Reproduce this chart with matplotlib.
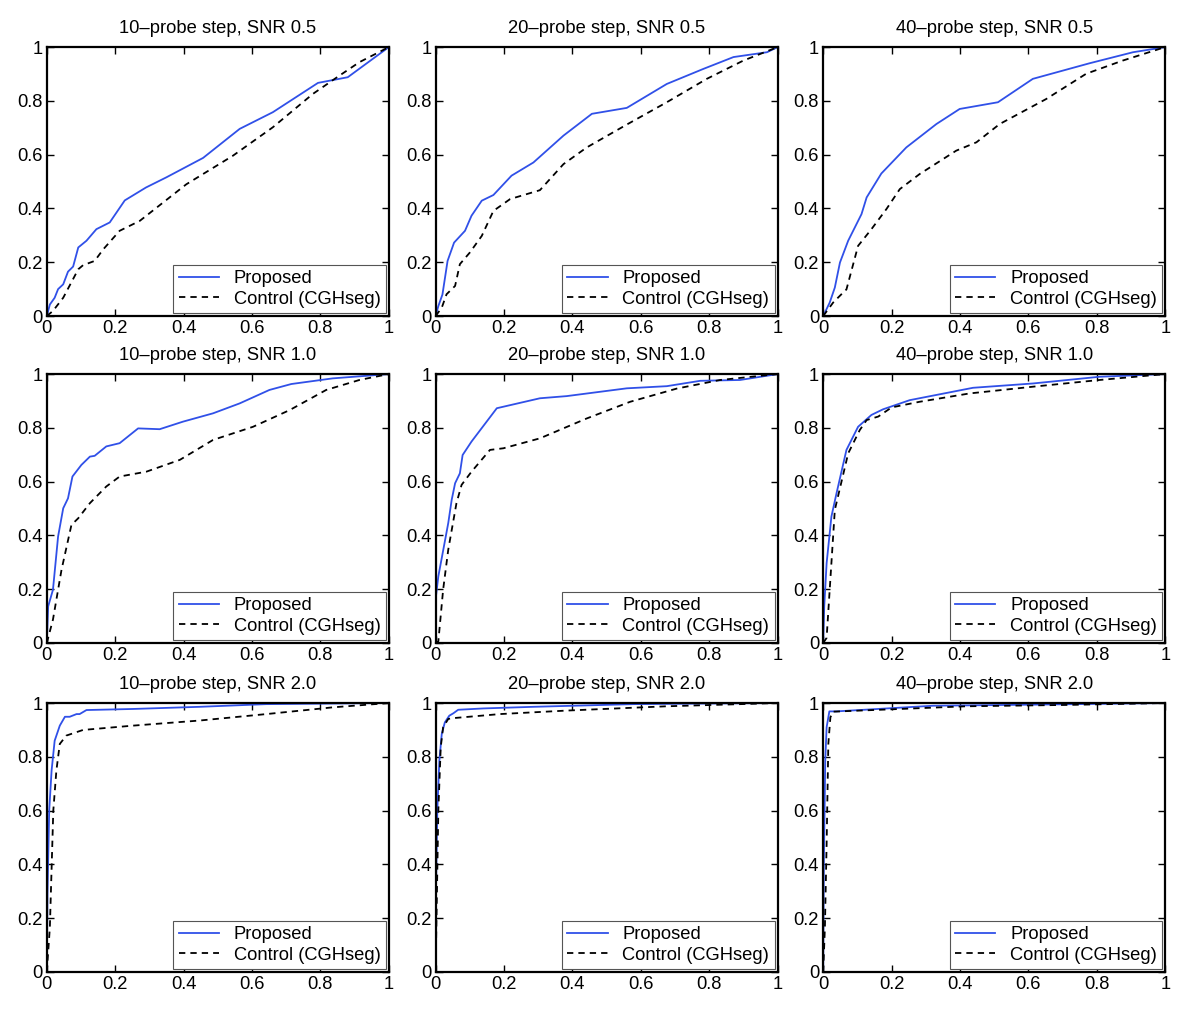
import matplotlib
matplotlib.use('Agg')
import matplotlib.pyplot as plt
import numpy as np

plt.rcParams['font.family'] = ['Liberation Sans', 'DejaVu Sans']

# panel titles, row by row
titles = ['10\u2013probe step, SNR 0.5', '20\u2013probe step, SNR 0.5', '40\u2013probe step, SNR 0.5',
          '10\u2013probe step, SNR 1.0', '20\u2013probe step, SNR 1.0', '40\u2013probe step, SNR 1.0',
          '10\u2013probe step, SNR 2.0', '20\u2013probe step, SNR 2.0', '40\u2013probe step, SNR 2.0']

# proposed method: (false positive rate, true positive rate)
prop_x = [
    [0, 0.009, 0.023, 0.033, 0.048, 0.062, 0.077, 0.092, 0.116, 0.145, 0.184, 0.228, 0.29, 0.35, 0.457, 0.564, 0.661, 0.793, 0.88, 1],
    [0, 0.008, 0.02, 0.035, 0.054, 0.086, 0.105, 0.135, 0.169, 0.222, 0.286, 0.374, 0.457, 0.559, 0.676, 0.783, 0.871, 0.969, 1],
    [0, 0.019, 0.034, 0.049, 0.073, 0.112, 0.127, 0.17, 0.243, 0.331, 0.399, 0.511, 0.613, 0.779, 0.906, 1],
    [0, 0.004, 0.018, 0.033, 0.048, 0.062, 0.075, 0.101, 0.126, 0.14, 0.174, 0.213, 0.267, 0.33, 0.398, 0.486, 0.564, 0.651, 0.715, 0.836, 1],
    [0, 0.001, 0.008, 0.018, 0.037, 0.047, 0.057, 0.071, 0.079, 0.105, 0.179, 0.305, 0.383, 0.559, 0.676, 0.774, 0.89, 1],
    [0, 0.003, 0.01, 0.024, 0.039, 0.068, 0.102, 0.141, 0.175, 0.253, 0.438, 0.613, 0.808, 1],
    [0, 0.002, 0.007, 0.014, 0.023, 0.038, 0.053, 0.067, 0.087, 0.096, 0.116, 0.252, 0.447, 0.642, 1],
    [0, 0.001, 0.005, 0.011, 0.018, 0.027, 0.04, 0.052, 0.066, 0.14, 0.286, 0.579, 1],
    [0, 0.002, 0.006, 0.01, 0.018, 0.039, 0.321, 0.613, 1],
]
prop_y = [
    [0, 0.043, 0.068, 0.10, 0.118, 0.165, 0.184, 0.255, 0.28, 0.323, 0.348, 0.43, 0.478, 0.516, 0.588, 0.696, 0.758, 0.867, 0.888, 1],
    [0, 0.037, 0.08, 0.205, 0.273, 0.317, 0.373, 0.429, 0.45, 0.522, 0.571, 0.671, 0.752, 0.774, 0.863, 0.919, 0.963, 0.981, 1],
    [0, 0.05, 0.106, 0.199, 0.28, 0.379, 0.441, 0.53, 0.627, 0.714, 0.77, 0.795, 0.882, 0.94, 0.981, 1],
    [0, 0.136, 0.198, 0.396, 0.501, 0.538, 0.619, 0.662, 0.693, 0.696, 0.731, 0.743, 0.798, 0.795, 0.823, 0.854, 0.891, 0.941, 0.963, 0.984, 1],
    [0, 0.173, 0.248, 0.316, 0.446, 0.532, 0.594, 0.631, 0.699, 0.749, 0.873, 0.91, 0.918, 0.947, 0.955, 0.975, 0.978, 1],
    [0, 0.136, 0.297, 0.47, 0.557, 0.718, 0.804, 0.848, 0.869, 0.903, 0.949, 0.965, 0.99, 1],
    [0, 0.291, 0.6, 0.749, 0.86, 0.916, 0.949, 0.949, 0.959, 0.959, 0.974, 0.978, 0.986, 0.996, 1],
    [0, 0.291, 0.6, 0.786, 0.885, 0.928, 0.953, 0.962, 0.975, 0.98, 0.986, 0.996, 1],
    [0, 0.415, 0.786, 0.91, 0.969, 0.969, 0.99, 0.994, 1],
]

# control (CGHseg)
ctrl_x = [
    [0, 0.018, 0.048, 0.092, 0.106, 0.14, 0.165, 0.213, 0.272, 0.408, 0.544, 0.661, 0.778, 0.851, 0.914, 1],
    [0, 0.018, 0.032, 0.057, 0.071, 0.1, 0.135, 0.169, 0.218, 0.305, 0.374, 0.442, 0.559, 0.676, 0.793, 0.9, 1],
    [0, 0.029, 0.058, 0.068, 0.102, 0.141, 0.185, 0.224, 0.282, 0.389, 0.448, 0.516, 0.652, 0.769, 0.876, 1],
    [0, 0.018, 0.043, 0.072, 0.092, 0.126, 0.174, 0.213, 0.291, 0.389, 0.486, 0.603, 0.71, 0.817, 0.914, 1],
    [0, 0.008, 0.022, 0.037, 0.061, 0.076, 0.105, 0.159, 0.198, 0.305, 0.442, 0.569, 0.705, 0.832, 1],
    [0, 0.01, 0.019, 0.034, 0.073, 0.107, 0.127, 0.161, 0.2, 0.282, 0.428, 0.613, 0.808, 1],
    [0, 0.009, 0.019, 0.028, 0.038, 0.057, 0.106, 0.252, 0.447, 0.642, 0.836, 1],
    [0, 0.003, 0.008, 0.015, 0.022, 0.037, 0.052, 0.188, 0.383, 0.676, 1],
    [0, 0.005, 0.01, 0.015, 0.021, 0.029, 0.224, 0.419, 0.711, 1],
]
ctrl_y = [
    [0, 0.019, 0.068, 0.174, 0.189, 0.205, 0.248, 0.317, 0.354, 0.49, 0.596, 0.702, 0.826, 0.89, 0.944, 1],
    [0, 0.031, 0.081, 0.112, 0.193, 0.236, 0.298, 0.391, 0.435, 0.468, 0.565, 0.627, 0.712, 0.795, 0.882, 0.95, 1],
    [0, 0.05, 0.087, 0.099, 0.261, 0.323, 0.398, 0.472, 0.528, 0.615, 0.646, 0.714, 0.807, 0.901, 0.95, 1],
    [0, 0.087, 0.272, 0.439, 0.464, 0.52, 0.582, 0.619, 0.637, 0.681, 0.755, 0.804, 0.866, 0.941, 0.978, 1],
    [0, 0.006, 0.198, 0.347, 0.52, 0.588, 0.637, 0.718, 0.724, 0.761, 0.835, 0.897, 0.946, 0.978, 1],
    [0, 0.019, 0.198, 0.495, 0.705, 0.792, 0.829, 0.842, 0.876, 0.897, 0.928, 0.953, 0.978, 1],
    [0, 0.167, 0.6, 0.749, 0.848, 0.879, 0.9, 0.916, 0.935, 0.959, 0.984, 1],
    [0, 0.229, 0.6, 0.836, 0.91, 0.941, 0.944, 0.959, 0.972, 0.988, 1],
    [0, 0.167, 0.476, 0.848, 0.947, 0.968, 0.978, 0.988, 0.993, 1],
]

ticks = [0, 0.2, 0.4, 0.6, 0.8, 1]
tick_labels = ['0', '0.2', '0.4', '0.6', '0.8', '1']

fig = plt.figure(figsize=(12, 10.11), dpi=100)
lefts = [0.039, 0.363, 0.686]
bottoms = [0.6874, 0.364, 0.0386]
w, h = 0.285, 0.266
fs = 13.2

for i in range(9):
    r, c = divmod(i, 3)
    ax = fig.add_axes([lefts[c], bottoms[r], w, h])
    ax.plot(prop_x[i], prop_y[i], color='#3050e8', lw=1.3, label='Proposed')
    ax.plot(ctrl_x[i], ctrl_y[i], color='black', lw=1.3, linestyle=(0, (3.5, 2.8)), label='Control (CGHseg)')
    ax.set_xlim(0, 1)
    ax.set_ylim(0, 1)
    ax.set_xticks(ticks)
    ax.set_xticklabels(tick_labels)
    ax.set_yticks(ticks)
    ax.set_yticklabels(tick_labels)
    ax.tick_params(direction='in', top=True, right=True, length=5, width=1, labelsize=fs, pad=3)
    for s in ax.spines.values():
        s.set_linewidth(1.6)
    ax.set_title(titles[i], fontsize=fs, pad=10)
    leg = ax.legend(loc='lower right', fontsize=fs, fancybox=False, framealpha=1,
                    borderaxespad=0.15, handlelength=2.2, borderpad=0.3, labelspacing=0.2)
    leg.get_frame().set_edgecolor('#555555')
    leg.get_frame().set_linewidth(0.8)

fig.savefig('out.png', dpi=100)
